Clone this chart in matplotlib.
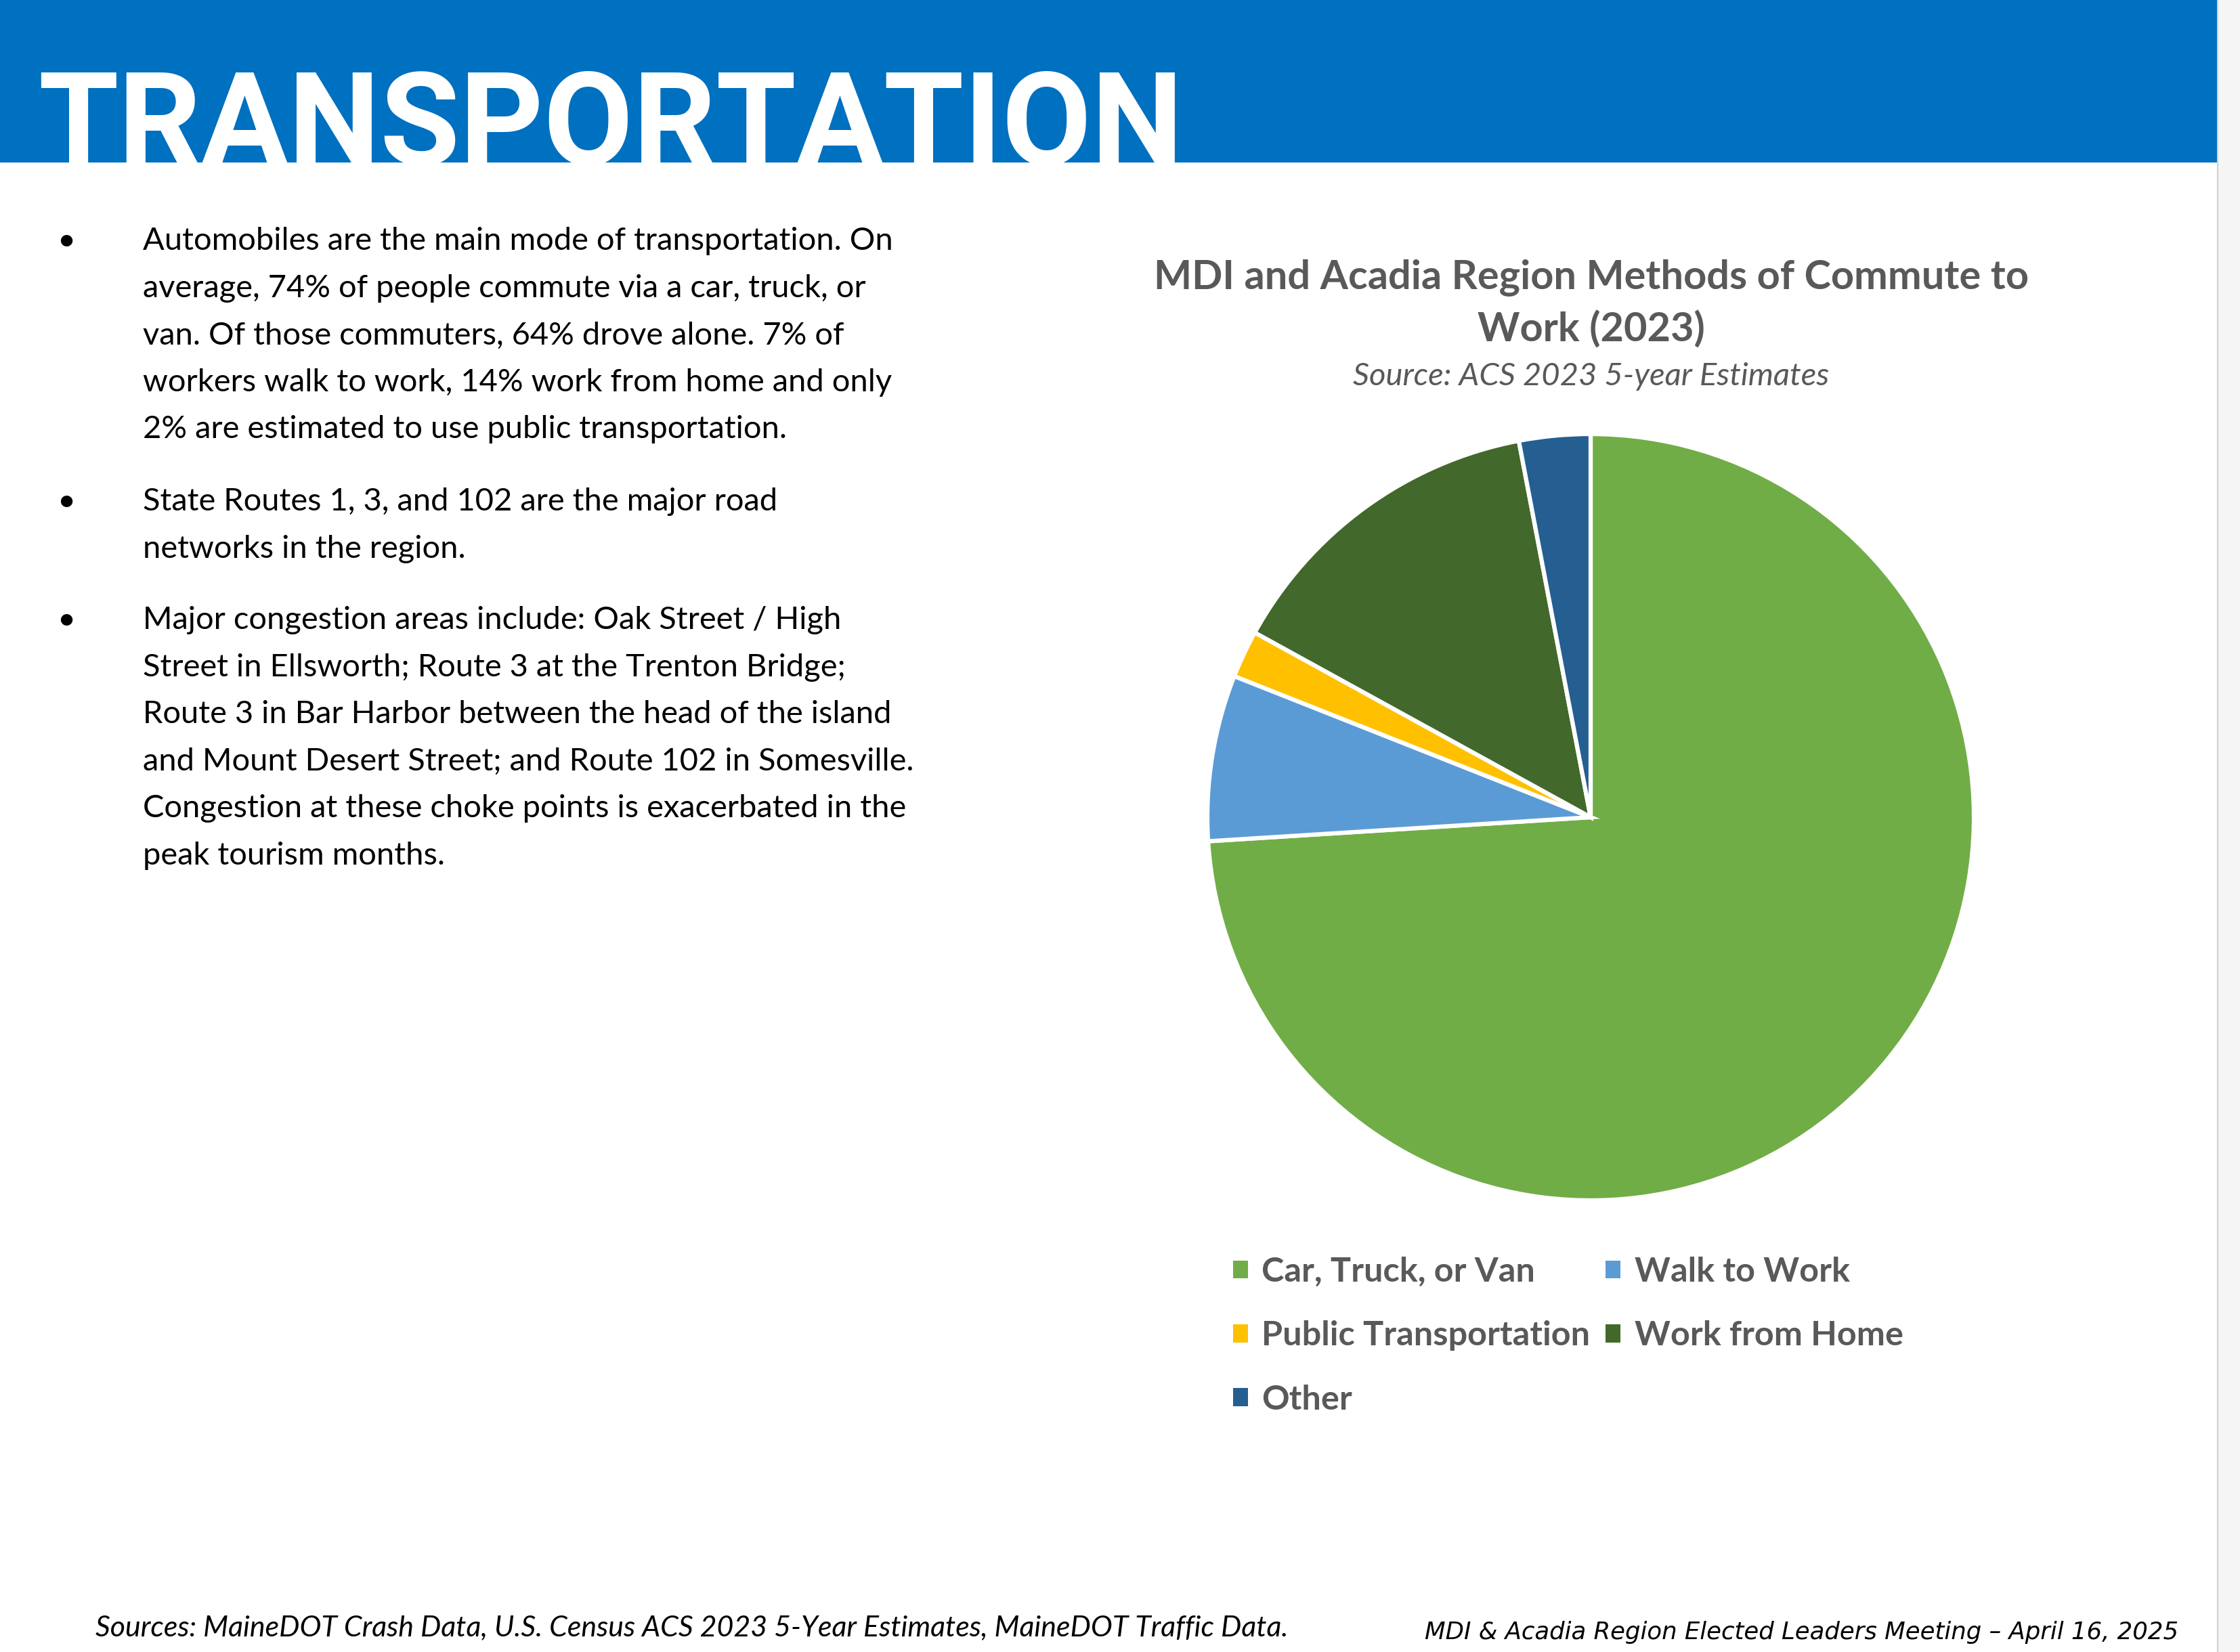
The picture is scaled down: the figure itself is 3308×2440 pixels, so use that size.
#!/usr/bin/env python3

# Libraries
import matplotlib
matplotlib.use('Agg')
import matplotlib.pyplot as plt
from matplotlib.patches import Rectangle, Patch
from matplotlib.lines import Line2D

# Canvas size (pixels)
W, H = 3308, 2440

# Chart data
Modes = ['Car, Truck, or Van', 'Walk to Work', 'Public Transportation', 'Work from Home', 'Other']
Shares = [74, 7, 2, 14, 3]
Colors = ['#70AD47', '#5B9BD5', '#FFC000', '#43682B', '#255E91']

# Texts
PageTitle = 'TRANSPORTATION'
ChartTitle = ['MDI and Acadia Region Methods of Commute to', 'Work (2023)']
ChartSource = 'Source: ACS 2023 5-year Estimates'
Bullet1 = ['Automobiles are the main mode of transportation. On',
           'average, 74% of people commute via a car, truck, or',
           'van. Of those commuters, 64% drove alone. 7% of',
           'workers walk to work, 14% work from home and only',
           '2% are estimated to use public transportation.']
Bullet2 = ['State Routes 1, 3, and 102 are the major road',
           'networks in the region.']
Bullet3 = ['Major congestion areas include: Oak Street / High',
           'Street in Ellsworth; Route 3 at the Trenton Bridge;',
           'Route 3 in Bar Harbor between the head of the island',
           'and Mount Desert Street; and Route 102 in Somesville.',
           'Congestion at these choke points is exacerbated in the',
           'peak tourism months.']
FooterLeft = 'Sources: MaineDOT Crash Data, U.S. Census ACS 2023 5-Year Estimates, MaineDOT Traffic Data.'
FooterRight = 'MDI & Acadia Region Elected Leaders Meeting \u2013 April 16, 2025'


# pixel -> figure fraction helpers
def fx(x):
    return x / W


def fy(y):
    return 1 - y / H


def main():
    fig = plt.figure(figsize=(W / 100, H / 100), dpi=100)
    fig.patch.set_facecolor('white')

    # Blue banner and right margin strip
    fig.patches.append(Rectangle((0, fy(240)), fx(3274), 240 / H, transform=fig.transFigure,
                                 facecolor='#0070C0', edgecolor='none', zorder=0))
    fig.patches.append(Rectangle((fx(3276), 0), 1 - fx(3276), 1, transform=fig.transFigure,
                                 facecolor='#F5F5F5', edgecolor='none', zorder=0))
    fig.lines.append(Line2D([fx(3275), fx(3275)], [0, 1], transform=fig.transFigure,
                            color='#D0D0D0', linewidth=1.5))

    # Banner title
    fig.text(fx(56), fy(95 + 148), PageTitle, family='Roboto', weight='bold', fontsize=138,
             color='white', ha='left', va='baseline')

    # Bullet text
    BodyFont = dict(family='Lato', fontsize=33.8, color='black', va='baseline')
    LineStep = 69.6
    for Lines, FirstBase in [(Bullet1, 369), (Bullet2, 754), (Bullet3, 929)]:
        fig.text(fx(98), fy(FirstBase), '\u2022', ha='center', **BodyFont)
        for i, Line in enumerate(Lines):
            fig.text(fx(211), fy(FirstBase + i * LineStep), Line, ha='left', **BodyFont)

    # Chart title
    fig.text(fx(2350), fy(427), ChartTitle[0], family='Lato', weight='bold', fontsize=42.8,
             color='#595959', ha='center', va='baseline')
    fig.text(fx(2350), fy(505), ChartTitle[1], family='Lato', weight='bold', fontsize=42.8,
             color='#595959', ha='center', va='baseline')
    fig.text(fx(2350), fy(569), ChartSource, family='Lato', style='italic', fontsize=34,
             color='#595959', ha='center', va='baseline')

    # Pie chart
    CenterX, CenterY, Radius = 2349, 1207, 566
    Pad = 1.02
    Side = 2 * Radius * Pad
    ax = fig.add_axes([fx(CenterX - Radius * Pad), fy(CenterY + Radius * Pad), Side / W, Side / H])
    ax.pie(Shares, colors=Colors, startangle=90, counterclock=False,
           wedgeprops=dict(edgecolor='white', linewidth=4.5, joinstyle='miter'))
    ax.set_xlim(-Pad, Pad)
    ax.set_ylim(-Pad, Pad)
    ax.set_aspect('equal')
    ax.axis('off')

    # Legend (row-major order in 2 columns)
    Handles = [Patch(facecolor=c, edgecolor='none') for c in Colors]
    Order = [0, 2, 4, 1, 3]
    leg = fig.legend([Handles[i] for i in Order], [Modes[i] for i in Order], ncol=2,
                     loc='upper left', bbox_to_anchor=(fx(1821), fy(1856)),
                     bbox_transform=fig.transFigure, frameon=False, borderpad=0,
                     borderaxespad=0, handlelength=0.44, handleheight=0.44,
                     handletextpad=0.4, columnspacing=0.45, labelspacing=0.98,
                     prop=dict(family='Lato', weight='bold', size=36.3))
    for t in leg.get_texts():
        t.set_color('#595959')

    # Footer
    fig.text(fx(141), fy(2416), FooterLeft, family='Lato', style='italic', fontsize=30.9,
             color='black', ha='left', va='baseline')
    fig.text(fx(3217), fy(2421), FooterRight, family='DejaVu Sans', style='italic', fontsize=25.6,
             color='black', ha='right', va='baseline')

    fig.savefig('out.png', dpi=100, facecolor=fig.get_facecolor())


# Execute main function
if __name__ == '__main__':
    main()
